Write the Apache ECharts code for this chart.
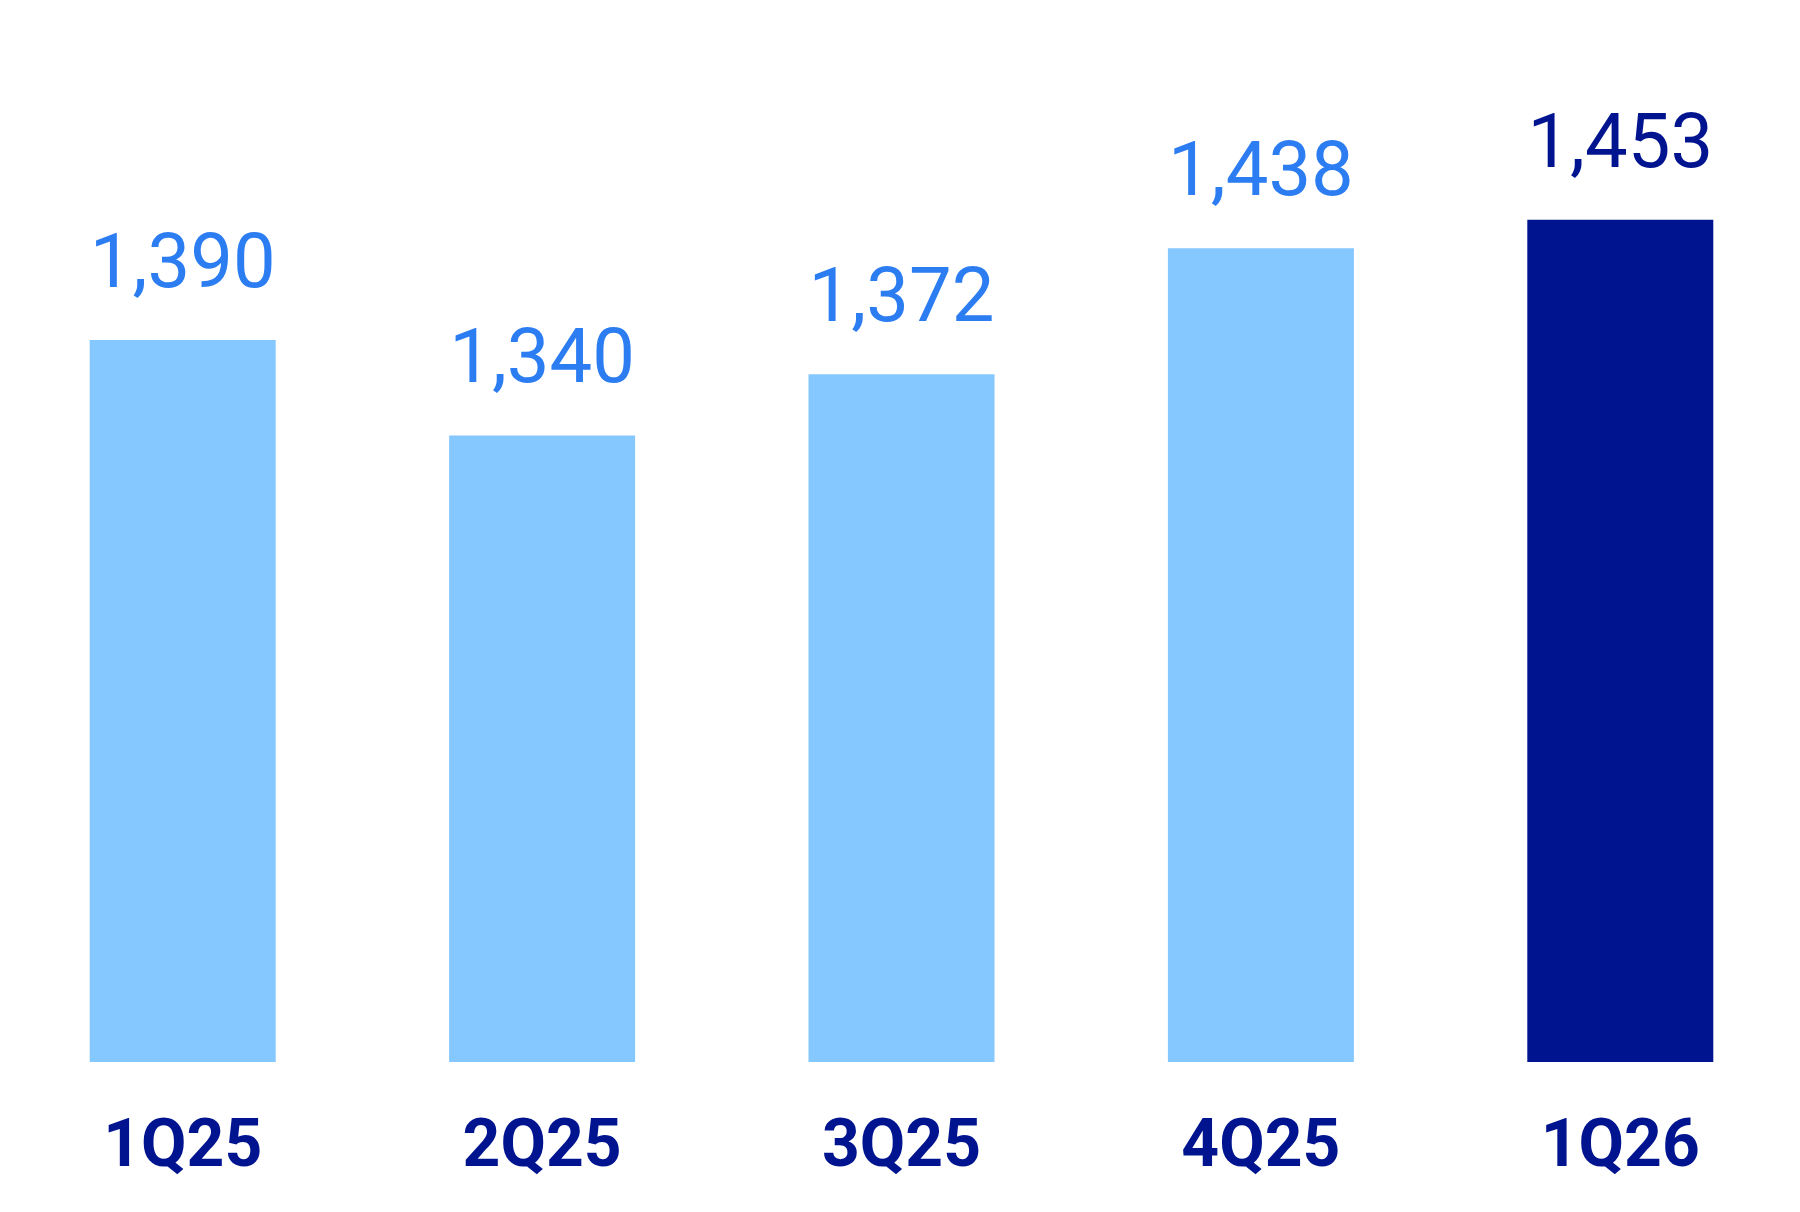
<!DOCTYPE html>
<html>
<head>
<meta charset="utf-8">
<script src="https://cdn.jsdelivr.net/npm/echarts@6/dist/echarts.min.js"></script>
<style>
html,body{margin:0;padding:0;background:#fff;}
#chart{width:1800px;height:1212px;}
</style>
</head>
<body>
<div id="chart"></div>
<script>
const categories = ['1Q25', '2Q25', '3Q25', '4Q25', '1Q26'];
const values = [1390, 1340, 1372, 1438, 1453];
const highlightIndex = 4;

const LIGHT_BAR = '#85C8FF';
const DARK_BAR = '#001490';
const LIGHT_TEXT = '#2D7DF2';
const DARK_TEXT = '#001490';

const chart = echarts.init(document.getElementById('chart'));
chart.setOption({
  backgroundColor: '#ffffff',
  animation: false,
  grid: { left: 3, right: -3, top: 0, bottom: 150 },
  xAxis: {
    type: 'category',
    data: categories,
    axisLine: { show: false },
    axisTick: { show: false },
    axisLabel: {
      margin: 54,
      fontFamily: 'Roboto',
      fontWeight: 'bold',
      fontSize: 66,
      color: DARK_TEXT
    }
  },
  yAxis: {
    type: 'value',
    min: 1012,
    max: 1568,
    show: false,
    splitLine: { show: false }
  },
  series: [{
    type: 'bar',
    barWidth: 186,
    data: values.map((v, i) => ({
      value: v,
      itemStyle: { color: i === highlightIndex ? DARK_BAR : LIGHT_BAR },
      label: { color: i === highlightIndex ? DARK_TEXT : LIGHT_TEXT }
    })),
    label: {
      show: true,
      position: 'top',
      distance: 34,
      fontFamily: 'Roboto',
      fontSize: 76,
      formatter: p => p.value.toLocaleString('en-US')
    }
  }]
});
</script>
</body>
</html>
